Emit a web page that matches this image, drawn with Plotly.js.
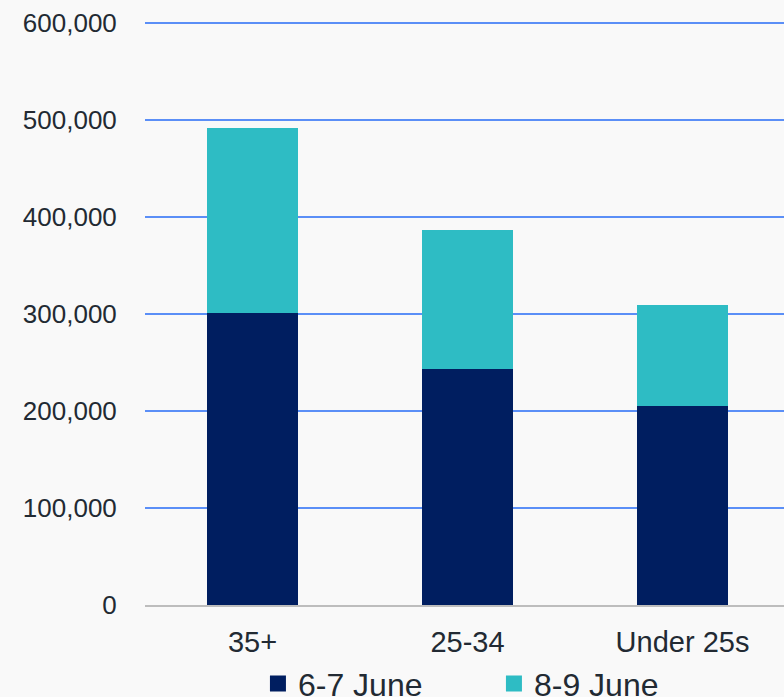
<!DOCTYPE html>
<html><head><meta charset="utf-8">
<script src="https://cdn.plot.ly/plotly-3.0.1.min.js"></script>
<style>html,body{margin:0;padding:0;background:#f9f9f9;overflow:hidden;width:784px;height:697px}#chart{width:792px;height:697px}</style>
</head><body><div id="chart"></div>
<script>
const categories = ["35+", "25-34", "Under 25s"];
const june67 = [301000, 243000, 205000];
const june89 = [191000, 144000, 104000];
const seriesNames = ["6-7 June", "8-9 June"];
const seriesColors = ['#001e60', '#2ebcc4'];
const yTicks = [0, 100000, 200000, 300000, 400000, 500000, 600000];
const yTickText = ["0", "100,000", "200,000", "300,000", "400,000", "500,000", "600,000"];

const txt = '#222a33';
const data = [
  {type:'bar', name:seriesNames[0], x:categories, y:june67, marker:{color:seriesColors[0]}, width:0.42, hoverinfo:'none', showlegend:false},
  {type:'bar', name:seriesNames[1], x:categories, y:june89, marker:{color:seriesColors[1]}, width:0.42, hoverinfo:'none', showlegend:false},
  {type:'scatter', mode:'markers', name:seriesNames[0], x:[null], y:[null], marker:{symbol:'square', size:16, color:seriesColors[0]}, showlegend:true},
  {type:'scatter', mode:'markers', name:seriesNames[1], x:[null], y:[null], marker:{symbol:'square', size:16, color:seriesColors[1]}, showlegend:true}
];
const layout = {
  width:792, height:697,
  barmode:'stack',
  paper_bgcolor:'#f9f9f9', plot_bgcolor:'#f9f9f9',
  margin:{l:145, r:2, t:20, b:92},
  font:{family:'"Liberation Sans", Arial, sans-serif', color:txt, size:26},
  xaxis:{automargin:false, tickfont:{size:29, color:txt}, showline:true, linecolor:'#bdbdbd', linewidth:2, ticks:'outside', ticklen:10, tickcolor:'rgba(0,0,0,0)', showgrid:false, zeroline:false},
  yaxis:{automargin:false, range:[0,603093], tickvals:yTicks, ticktext:yTickText, tickfont:{size:26, color:txt}, showgrid:true, gridcolor:'#5b8ff7', gridwidth:2, zeroline:false, ticks:'outside', ticklen:22, tickcolor:'rgba(0,0,0,0)', showline:false},
  showlegend:true,
  legend:{orientation:'h', x:0.541, xanchor:'center', yref:'container', y:0.019, yanchor:'middle', font:{size:32, color:txt}, traceorder:'normal', itemwidth:30, entrywidth:191, bgcolor:'rgba(0,0,0,0)'}
};
Plotly.newPlot('chart', data, layout, {displayModeBar:false, staticPlot:true});
</script></body></html>
